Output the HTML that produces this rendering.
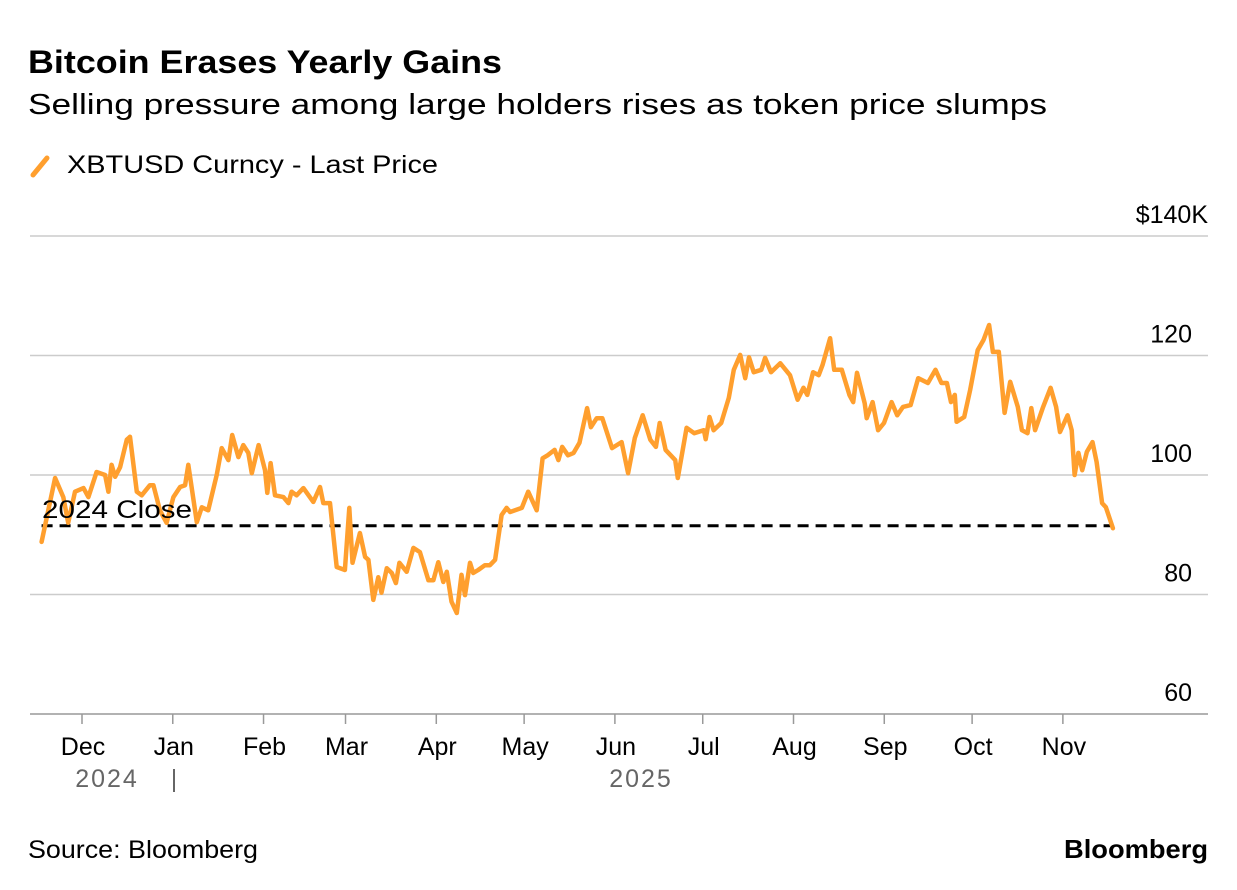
<!DOCTYPE html>
<html><head><meta charset="utf-8"><style>
body{margin:0;background:#fff;font-family:"Liberation Sans",sans-serif;}
svg{display:block}
</style></head><body>
<svg id="chart" width="1237" height="890" font-family="Liberation Sans, sans-serif">
<text x="28" y="73" font-size="32" font-weight="bold" fill="#000" textLength="474" lengthAdjust="spacingAndGlyphs">Bitcoin Erases Yearly Gains</text>
<text x="28" y="114" font-size="29" fill="#000" textLength="1019" lengthAdjust="spacingAndGlyphs">Selling pressure among large holders rises as token price slumps</text>
<g>
<line x1="33" y1="175" x2="47" y2="158" stroke="#FF9F2E" stroke-width="5" stroke-linecap="round"/>
<text x="67" y="173" font-size="25" fill="#000" textLength="371" lengthAdjust="spacingAndGlyphs">XBTUSD Curncy - Last Price</text>
</g>
<g id="grid"></g>
<g id="xaxis"></g>
<text x="107" y="787" font-size="25" fill="#666" text-anchor="middle" letter-spacing="2">2024</text>
<text x="174" y="787" font-size="25" fill="#666" text-anchor="middle">|</text>
<text x="641" y="787" font-size="25" fill="#666" text-anchor="middle" letter-spacing="2">2025</text>
<g id="plot"></g>
<text x="28" y="858" font-size="25" fill="#000" textLength="230" lengthAdjust="spacingAndGlyphs">Source: Bloomberg</text>
<text x="1064" y="858" font-size="26" font-weight="bold" fill="#000" textLength="144" lengthAdjust="spacingAndGlyphs">Bloomberg</text>
</svg>
<script>
const yTicks=[60,80,100,120,140];
const yTickLabels=["60","80","100","120","$140K"];
const monthLabels=["Dec","Jan","Feb","Mar","Apr","May","Jun","Jul","Aug","Sep","Oct","Nov"];
const monthDays=[0,31,62,90,121,151,182,212,243,274,304,335];
const closeValue=91.5;
const days=[-13.8,-9.2,-6.4,-4.7,-2.4,0.5,2.2,5.0,7.9,9.0,10.1,11.3,13.0,15.3,16.4,18.7,20.4,23.2,24.4,26.6,28.9,31.2,33.5,35.2,36.3,39.2,40.9,43.1,46.0,47.7,50.0,51.3,53.4,55.1,56.8,58.0,60.3,62.5,63.3,64.4,65.9,68.8,70.5,71.6,73.3,75.6,79.0,81.3,82.4,84.7,87.0,89.8,91.3,92.4,94.9,96.7,97.8,99.5,101.2,102.3,104.1,105.8,107.2,108.4,110.9,113.2,115.4,118.3,120.0,121.7,123.4,124.6,126.2,128.0,129.6,130.8,132.5,133.6,135.3,137.6,139.3,141.1,143.3,145.0,146.2,150.2,152.4,155.3,157.3,159.0,161.4,162.7,164.0,166.0,167.9,169.9,172.5,173.8,175.8,177.7,181.0,184.3,186.5,188.8,191.5,194.1,196.0,197.3,199.3,202.6,203.5,206.5,209.1,212.4,213.0,214.3,215.7,218.3,220.9,222.6,224.8,226.5,227.8,229.4,232.0,233.3,235.3,238.5,241.8,244.4,246.4,247.7,249.7,251.6,252.9,255.5,256.9,259.5,262.1,263.4,264.7,267.3,268.0,270.0,271.9,273.9,276.5,278.4,280.4,283.0,285.6,288.9,291.5,293.5,295.4,296.8,298.1,298.7,301.3,303.3,305.9,307.9,309.8,311.1,313.1,315.1,317.0,319.6,321.0,322.9,324.2,325.5,328.1,330.8,332.7,334.0,336.6,338.0,339.0,340.3,341.6,343.2,345.1,346.5,348.4,349.7,352.1];
const prices=[88.8,99.5,96.3,92,97.2,97.8,96.3,100.5,100,97.2,101.7,99.7,101.3,105.9,106.4,97.2,96.6,98.3,98.3,94.1,92,96.3,98,98.3,101.7,92.1,94.6,94.1,100,104.5,102.5,106.7,103,105,103.7,100.3,105,100.8,97,102,96.6,96.3,95.3,97.2,96.6,97.8,95.5,98,95.3,95.3,84.6,84.1,94.5,85.3,90.3,86.3,85.8,79.1,82.9,80.3,84.4,83.6,81.9,85.3,83.8,87.8,87.1,82.4,82.4,85.4,82.1,83.8,78.8,76.9,83.3,79.9,85.3,83.6,84.1,84.9,84.9,85.8,93.3,94.5,93.8,94.5,97.2,94.1,102.8,103.3,104.2,102.5,104.7,103.3,103.7,105.4,111.2,108,109.5,109.5,104.5,105.5,100.3,106.2,110,105.9,104.7,108.7,104.2,102.5,99.5,107.9,107,107.5,106,109.7,107.5,108.7,112.9,117.6,120.1,116.2,119.7,117.2,117.6,119.6,117.2,118.7,116.7,112.6,114.6,113.4,117.2,116.7,118.4,122.9,117.6,117.6,113.4,112.2,117.1,112,109.5,112.2,107.5,108.7,112.2,110,111.4,111.7,116.2,115.4,117.6,115.4,115.4,112.2,113.4,108.9,109.7,114.2,120.9,122.6,125.1,120.6,120.6,110.4,115.6,111.4,107.5,107,111.2,107.5,111.2,114.6,111.4,107.2,110,107.5,100,103.7,100.8,103.9,105.5,102.2,95.3,94.6,91.1];

const NS="http://www.w3.org/2000/svg";
const X=d=>82+d*2.928;
const Y=v=>714-(v-60)*5.975;
function mk(tag,attrs,parent){const e=document.createElementNS(NS,tag);for(const k in attrs)e.setAttribute(k,attrs[k]);parent.appendChild(e);return e;}
const grid=document.getElementById('grid'),xa=document.getElementById('xaxis'),plot=document.getElementById('plot');
yTicks.forEach((v,i)=>{
  const l=mk('line',{x1:30,x2:1208,y1:Y(v),y2:Y(v),stroke:i===0?'#999':'#ccc','stroke-width':1.5},grid);
  
  
  const t=mk('text',{x:1192,y:Y(v)-13,'font-size':25,'text-anchor':'end',fill:'#000'},grid);
  if(i===4){t.setAttribute('x',1208);}
  t.textContent=yTickLabels[i];
  
  
});
monthDays.forEach((d,i)=>{
  const l=mk('line',{x1:X(d),x2:X(d),y1:714,y2:724,stroke:'#999','stroke-width':1.5},xa);
  
  
  const t=mk('text',{x:X(d)+1,y:755,'font-size':25,'text-anchor':'middle',fill:'#000'},xa);
  t.textContent=monthLabels[i];
  
  
});
const cl=mk('line',{x1:X(days[0]),x2:X(days[days.length-1]),y1:Y(closeValue),y2:Y(closeValue),stroke:'#000','stroke-width':3,'stroke-dasharray':'11,7'},plot);


const pts=days.map((d,i)=>X(d).toFixed(1)+','+Y(prices[i]).toFixed(1)).join(' ');
const pl=mk('polyline',{points:pts,fill:'none',stroke:'#FF9F2E','stroke-width':4.5,'stroke-linejoin':'round','stroke-linecap':'round'},plot);


const ct=mk('text',{x:42,y:Y(closeValue)-8,'font-size':25,fill:'#000',textLength:150,lengthAdjust:'spacingAndGlyphs'},plot);
ct.textContent='2024 Close';


</script>
</body></html>
